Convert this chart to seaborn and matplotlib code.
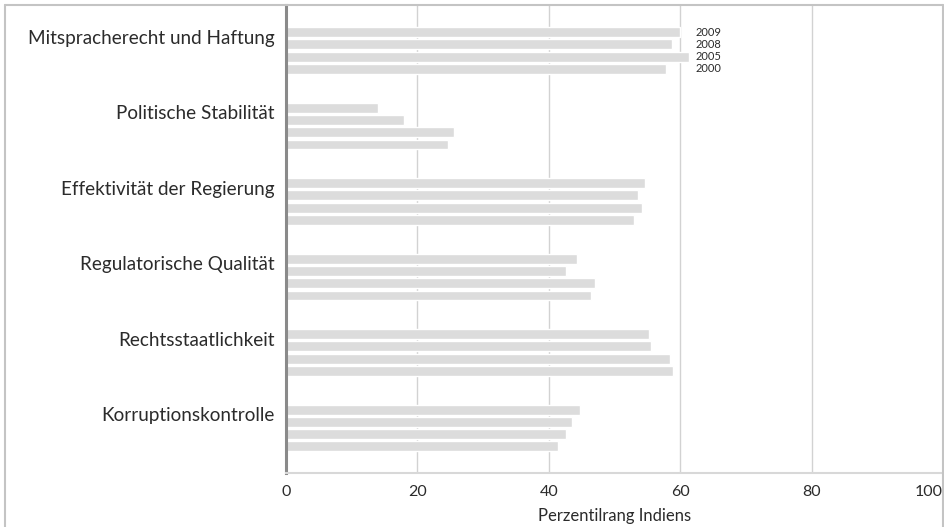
import numpy as np
import pandas as pd
import matplotlib
matplotlib.use("Agg")
import matplotlib.pyplot as plt
from matplotlib.lines import Line2D
import seaborn as sns

categories = ["Mitspracherecht und Haftung", "Politische Stabilität",
              "Effektivität der Regierung", "Regulatorische Qualität",
              "Rechtsstaatlichkeit", "Korruptionskontrolle"]
years = ["2009", "2008", "2005", "2000"]
v2009 = [60.0, 14.0, 54.7, 44.3, 55.3, 44.7]
v2008 = [58.8, 18.0, 53.6, 42.6, 55.6, 43.5]
v2005 = [61.3, 25.5, 54.2, 47.0, 58.5, 42.6]
v2000 = [57.8, 24.7, 53.0, 46.4, 58.9, 41.4]
xticks = [0, 20, 40, 60, 80, 100]

df = pd.DataFrame({
    "cat": categories * 4,
    "year": [y for y in years for _ in categories],
    "val": v2009 + v2008 + v2005 + v2000,
})

sns.set_theme(style="white")
plt.rcParams["font.family"] = ["Lato", "DejaVu Sans"]
text_col = "#2b2b2b"

fig = plt.figure(figsize=(9.45, 5.27), dpi=100)
W, H = 945, 527
ax = fig.add_axes([286 / W, 1 - 473 / H, (943 - 286) / W, (473 - 5) / H])

sns.barplot(data=df, y="cat", x="val", hue="year", hue_order=years,
            order=categories, orient="h", palette=["#dcdcdc"] * 4,
            width=0.65, gap=0.2, legend=False, ax=ax, zorder=2, saturation=1)

ax.set_xlim(0, 100)
ax.set_ylim(5.596, -0.603)
ax.set_xticks(xticks)
ax.set_xticklabels([str(t) for t in xticks], fontsize=11.5, color=text_col)
ax.get_xticklabels()[-1].set_horizontalalignment("right")
ax.grid(axis="x", color="#d2d2d2", linewidth=1, zorder=0)
ax.grid(axis="y", visible=False)
ax.set_axisbelow(True)

# category labels sit next to the top bar of each group
first_year = [p for p in ax.patches if p.get_width() > 0][:len(categories)]
ypos = [p.get_y() + p.get_height() / 2 + 0.06 for p in first_year]
ax.set_yticks(ypos)
ax.set_yticklabels(categories, fontsize=13.6, color=text_col)
ax.tick_params(axis="y", length=0, pad=8)
ax.tick_params(axis="x", length=0, pad=9)
ax.set_ylabel("")
ax.set_xlabel("Perzentilrang Indiens", fontsize=12, color=text_col, labelpad=6)

# year labels for the first group
group0 = sorted([p for p in ax.patches if abs(p.get_y() + p.get_height() / 2) < 0.5],
                key=lambda p: p.get_y())
for p, yr in zip(group0, years):
    ax.text(62.3, p.get_y() + p.get_height() / 2, yr, fontsize=8,
            color=text_col, va="center", ha="left")

ax.spines["top"].set_visible(False)
ax.spines["right"].set_visible(False)
ax.spines["left"].set_color("#8a8a8a")
ax.spines["left"].set_linewidth(2.2)
ax.spines["bottom"].set_color("#d8d8d8")
ax.spines["bottom"].set_linewidth(1.5)

# light frame around the chart (open at the bottom)
fc = "#c4c4c4"
fig.add_artist(Line2D([5 / W, 943 / W], [1 - 5 / H, 1 - 5 / H], color=fc, lw=1.5))
fig.add_artist(Line2D([5 / W, 5 / W], [0, 1 - 5 / H], color=fc, lw=1.5))
fig.add_artist(Line2D([943 / W, 943 / W], [0, 1 - 5 / H], color=fc, lw=1.5))

fig.savefig("out.png", dpi=100)
